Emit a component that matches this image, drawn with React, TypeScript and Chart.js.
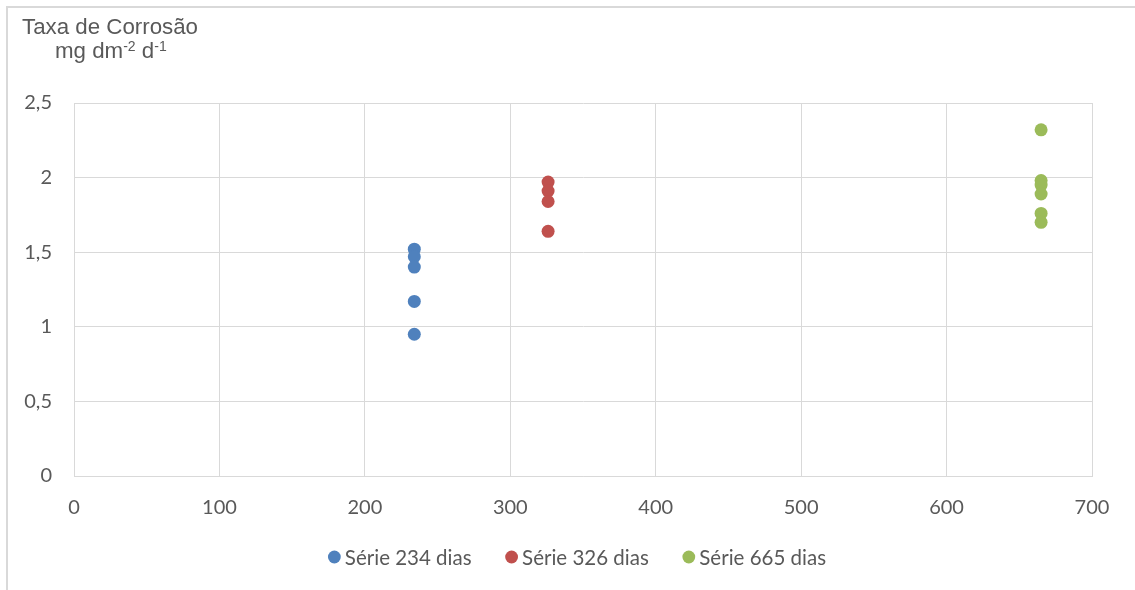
import React, { useEffect, useRef } from "react";
import { Chart, registerables } from "chart.js";

Chart.register(...registerables);

const seriesNames = ["Série 234 dias", "Série 326 dias", "Série 665 dias"];
const seriesDays = [234, 326, 665];
const serie234 = [1.52, 1.47, 1.4, 1.17, 0.95];
const serie326 = [1.97, 1.91, 1.84, 1.64];
const serie665 = [2.32, 1.98, 1.95, 1.89, 1.76, 1.7];
const seriesColors = ["#4F81BD", "#C0504D", "#9BBB59"];
const xTicks = [0, 100, 200, 300, 400, 500, 600, 700];
const yTicks = [0, 0.5, 1, 1.5, 2, 2.5];

const TEXT = "#595959";
const GRID = "#d9d9d9";
const FONT_FAMILY = "Lato, 'Noto Sans', sans-serif";
const TICK_FONT = { family: FONT_FAMILY, size: 20 };
const LEGEND_SIZE = 20.5;

const bottomLegend = {
  id: "bottomLegend",
  afterDraw(chart: any) {
    const ctx = chart.ctx as CanvasRenderingContext2D;
    const ds = chart.data.datasets;
    const r = 6.4;
    const dotToText = 10.5;
    const itemGap = 40;
    const cy = 557;
    ctx.save();
    ctx.font = `${LEGEND_SIZE}px ${FONT_FAMILY}`;
    const widths = ds.map((d: any) => ctx.measureText(d.label).width);
    let total = r;
    widths.forEach((w: number, i: number) => {
      total += dotToText + w + (i < widths.length - 1 ? itemGap : 0);
    });
    const centerX = 577;
    let x = centerX - total / 2 + r; // first dot center
    ctx.textBaseline = "middle";
    ctx.textAlign = "left";
    ds.forEach((d: any, i: number) => {
      ctx.beginPath();
      ctx.fillStyle = d.backgroundColor;
      ctx.arc(x, cy, r, 0, Math.PI * 2);
      ctx.fill();
      ctx.fillStyle = TEXT;
      ctx.fillText(d.label, x + dotToText, cy + 1);
      x += dotToText + widths[i] + itemGap;
    });
    ctx.restore();
  },
};

export default function App() {
  const ref = useRef<HTMLCanvasElement | null>(null);

  useEffect(() => {
    if (!ref.current) return;
    const values = [serie234, serie326, serie665];
    const chart = new Chart(ref.current, {
      type: "scatter",
      data: {
        datasets: values.map((vals, i) => ({
          label: seriesNames[i],
          data: vals.map((v) => ({ x: seriesDays[i], y: v })),
          backgroundColor: seriesColors[i],
          borderColor: seriesColors[i],
          borderWidth: 0,
          pointRadius: 6.5,
          pointHoverRadius: 6.5,
          pointStyle: "circle",
        })),
      },
      plugins: [bottomLegend],
      options: {
        responsive: false,
        animation: false,
        layout: { padding: { left: 0, right: 43, top: 103, bottom: 0 } },
        plugins: {
          tooltip: { enabled: false },
          legend: { display: false },
        },
        scales: {
          x: {
            type: "linear",
            min: xTicks[0],
            max: xTicks[xTicks.length - 1],
            afterBuildTicks: (s: any) => {
              s.ticks = xTicks.map((v) => ({ value: v }));
            },
            ticks: { color: TEXT, font: TICK_FONT, padding: 20, maxRotation: 0 },
            grid: { color: GRID, lineWidth: 1, drawTicks: false },
            border: { color: GRID, width: 1 },
            afterFit: (s: any) => {
              s.height = 114;
            },
          },
          y: {
            type: "linear",
            min: yTicks[0],
            max: yTicks[yTicks.length - 1],
            afterBuildTicks: (s: any) => {
              s.ticks = yTicks.map((v) => ({ value: v }));
            },
            ticks: {
              color: TEXT,
              font: TICK_FONT,
              padding: 22,
              callback: (v: any) => String(v).replace(".", ","),
            },
            grid: { color: GRID, lineWidth: 1, drawTicks: false },
            border: { color: GRID, width: 1 },
            afterFit: (s: any) => {
              s.width = 74;
            },
          },
        },
      },
    });
    return () => chart.destroy();
  }, []);

  const titleStyle: React.CSSProperties = {
    position: "absolute",
    fontFamily: "'Liberation Sans', Arial, sans-serif",
    fontSize: 22.3,
    lineHeight: "22px",
    color: TEXT,
    whiteSpace: "nowrap",
  };
  const supStyle: React.CSSProperties = { fontSize: 14, verticalAlign: "7px", lineHeight: 0 };

  return (
    <div style={{ position: "fixed", left: 0, top: 0, width: 1135, height: 590, background: "#fff", overflow: "hidden" }}>
      <div
        style={{
          position: "absolute",
          left: 6,
          top: 6,
          width: 1140,
          height: 600,
          borderLeft: `2px solid ${GRID}`,
          borderTop: `2px solid ${GRID}`,
        }}
      />
      <canvas ref={ref} width={1135} height={590} style={{ position: "absolute", left: 0, top: 0 }} />
      <div style={{ ...titleStyle, left: 22, top: 16 }}>Taxa de Corrosão</div>
      <div style={{ ...titleStyle, left: 55, top: 40 }}>
        mg dm<sup style={supStyle}>-2</sup> d<sup style={supStyle}>-1</sup>
      </div>
    </div>
  );
}
